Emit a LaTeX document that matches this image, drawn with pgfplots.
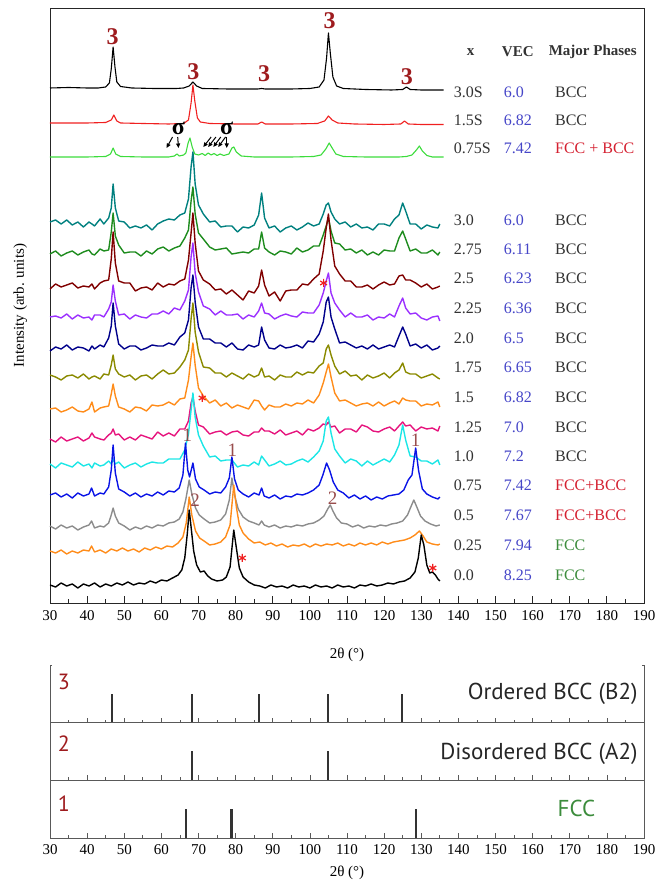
\documentclass[border=0pt]{standalone}
\usepackage{pgfplots}
\pgfplotsset{compat=1.18}
\usepackage{pgfplotstable}
\usepackage{fontspec}
\setmainfont{Liberation Serif}
\newfontfamily\labelsans{PT Sans}
\usetikzlibrary{arrows.meta}

\definecolor{cTeal}{HTML}{00807F}
\definecolor{cGreen}{HTML}{1E8C1E}
\definecolor{cDRed}{HTML}{800000}
\definecolor{cPurple}{HTML}{9B30FF}
\definecolor{cNavy}{HTML}{00008B}
\definecolor{cOlive}{HTML}{8A8A00}
\definecolor{cOrange}{HTML}{FF8C1A}
\definecolor{cPink}{HTML}{E6147D}
\definecolor{cCyan}{HTML}{1CE6E6}
\definecolor{cBlue}{HTML}{0A14E6}
\definecolor{cGray}{HTML}{8C8C8C}
\definecolor{cRed}{HTML}{F02020}
\definecolor{cLime}{HTML}{3CDC3C}
\definecolor{cLabel}{HTML}{9E1B1E}
\definecolor{cPeak}{HTML}{8E3A3A}
\definecolor{cVEC}{HTML}{4646C8}
\definecolor{cPhRed}{HTML}{D42030}
\definecolor{cPhGreen}{HTML}{3C8C3C}
\definecolor{cText}{HTML}{333333}

% BCC-type scans (x = 1.0 ... 3.0), stacked intensities on a shared 2theta grid
\pgfplotstableread{
x     s30 s275 s25 s225 s20 s175 s15 s125 s10
30    381 349 314 286 252 228 194 164 139
31.5  383 352 319 287 256 226 195 161 135
33    379 347 316 285 254 223 191 166 140
34.5  383 350 318 289 258 227 193 162 138
36    378 352 320 284 253 228 196 164 136
37.5  381 348 315 288 256 225 192 166 141
39    376 351 317 285 255 229 191 162 137
40.5  381 353 316 286 252 224 194 165 139
41.3  379 349 319 283 257 226 201 170 135
42    377 348 314 288 254 227 191 166 140
43.5  384 354 320 288 258 224 195 164 137
44.5  379 352 322 286 256 229 196 163 138
45.8  385 353 323 294 265 228 197 168 142
46.5  395 371 344 301 277 238 209 170 139
47    419 390 371 318 300 248 219 174 144
47.6  395 367 340 302 277 234 207 168 139
48.5  382 358 322 288 259 229 196 169 141
50    381 350 320 289 254 226 194 163 135
51.5  375 351 320 284 257 228 191 166 138
53    377 351 312 288 257 223 196 163 140
54.5  375 347 315 286 253 227 195 168 136
56    378 352 316 285 255 228 192 166 139
57.5  373 349 313 289 258 224 198 164 141
59    379 354 320 289 257 229 197 171 140
60.5  382 356 316 292 257 233 198 167 140
62    384 352 319 289 260 229 201 170 144
63.5  383 355 318 295 258 230 198 167 144
65    388 357 322 293 266 236 204 174 144
66.3  390 365 324 302 270 243 205 174 153
67.3  404 373 343 313 283 253 223 182 169
68    436 402 370 346 315 284 246 200 193
68.5  451 416 390 360 328 300 260 206 210
69.1  419 389 360 330 301 271 238 192 186
70    398 370 332 311 276 251 215 178 168
71.3  389 364 323 297 264 236 207 176 157
73    381 356 319 294 264 235 200 169 146
74.5  382 353 313 288 260 230 203 171 147
76    376 354 314 292 260 230 197 172 142
77.5  377 355 309 288 256 226 200 168 143
79    377 349 313 288 260 230 195 171 143
80.5  371 350 308 289 254 227 198 172 136
82    376 351 303 284 253 224 196 168 138
83.5  375 350 312 288 258 229 194 167 137
85    378 354 310 286 256 226 203 171 141
86.2  388 354 317 292 258 228 202 171 138
87    410 371 333 300 276 235 197 175 147
87.8  385 355 318 290 263 226 193 172 143
89    375 351 307 289 255 227 198 172 137
90.5  377 348 311 284 254 223 196 169 139
92    371 352 302 287 258 228 196 173 142
93.5  375 351 312 289 255 226 199 168 138
95    377 349 313 287 256 226 197 170 139
96.5  373 355 313 286 258 231 200 172 142
98    376 351 319 291 255 228 199 168 144
99.5  380 353 318 290 262 231 203 174 141
101   377 357 324 290 261 230 200 172 146
102.5 379 357 329 298 269 237 208 175 152
103.6 389 368 352 310 281 240 220 179 162
104.4 398 377 375 322 301 254 231 178 182
105   400 385 389 330 306 258 239 181 186
105.7 391 372 363 310 286 248 226 176 170
106.7 384 360 337 300 274 237 210 177 154
108   379 359 329 293 260 229 202 170 147
109.5 381 353 322 286 261 232 203 174 140
111   376 354 322 290 258 227 200 174 144
112.5 379 350 316 286 255 228 197 171 142
114   375 353 316 286 257 223 199 178 137
115.5 376 348 318 288 254 228 200 176 142
117   373 351 314 283 258 225 197 172 138
118.5 379 348 318 286 254 227 201 171 141
120   379 353 321 285 256 230 197 174 144
121.5 377 352 318 289 258 225 200 176 141
122.8 384 352 319 286 256 230 202 172 148
124   388 365 327 297 267 233 199 177 158
125   400 372 328 305 276 240 205 181 178
125.8 392 364 323 295 269 231 203 177 163
127   379 352 323 289 257 229 202 178 147
128.5 379 354 320 290 259 229 202 172 146
130   374 350 316 285 255 225 197 176 142
131.5 378 350 319 283 258 227 199 174 142
133   376 353 314 286 253 229 198 175 139
134.5 375 348 316 287 255 225 201 172 143
135   379 351 317 282 257 224 196 177 138
}\bccscans

\pgfplotsset{
  xrd/.style={mark=none, line width=1.1pt, line join=round},
  noisy/.style={mark=none, line width=1.4pt, line join=round},
  lowpanel/.style={
    width=594pt, height=57.67pt, scale only axis,
    xmin=30, xmax=190, ymin=0, ymax=1,
    axis line style={black!65, line width=0.8pt},
    ytick=\empty, xtick pos=bottom,
    xtick={30,40,...,190}, minor x tick num=1,
    tick align=inside, major tick length=5pt, minor tick length=3pt,
    every tick/.style={black!65, line width=0.7pt},
    xticklabels={}, clip=false,
  },
  stick/.style={ycomb, mark=none, line width=2.1pt, black!80},
}
\tikzset{
  refname/.style={font=\labelsans\fontsize{23}{23}\selectfont},
  refnum/.style={anchor=west, font=\labelsans\fontsize{22}{22}\selectfont, text=cLabel},
}

\begin{document}
\begin{tikzpicture}
\useasboundingbox (0pt,0pt) rectangle (666pt,883pt);

% ---------- measured patterns ----------
\begin{axis}[
  name=main,
  at={(50pt,280pt)}, anchor=south west,
  width=594pt, height=595pt, scale only axis,
  xmin=30, xmax=190, ymin=0, ymax=595,
  xtick={30,40,...,190}, minor x tick num=1,
  ytick=\empty, xtick pos=bottom,
  tick align=inside, major tick length=7pt, minor tick length=4pt,
  axis line style={black!85, line width=0.9pt},
  every tick/.style={black!85, line width=0.8pt},
  tick label style={font=\fontsize{15}{15}\selectfont},
  xticklabel style={yshift=-4pt},
  /pgf/number format/assume math mode=true,
  xlabel={2θ (°)},
  xlabel style={font=\fontsize{15}{15}\selectfont, at={(axis description cs:0.5,-0.087)}, anchor=center},
  ylabel={Intensity (arb. units)},
  ylabel style={font=\fontsize{15}{15}\selectfont, at={(axis description cs:-0.05,0.5)}, anchor=center},
  clip=false,
]
% annealed samples
\addplot[xrd, black] coordinates {(30,515) (35,515.5) (40,515) (43,515) (45,516) (46,520) (46.5,534) (47,556) (47.5,536) (48,521) (49,516.5) (52,515) (58,514.5) (64,514.5) (66,515) (67.5,517) (68.5,521) (69.5,517) (71,514.5) (78,514) (86,514) (87,514.5) (88,514) (95,514) (100,514.5) (102.5,516) (103.8,523) (104.5,545) (105,570) (105.5,550) (106.2,526) (107.2,517) (109,514.5) (115,513.5) (122,513) (125,513.5) (126,516) (127,513.5) (130,513) (136,513)};
\addplot[xrd, cRed] coordinates {(30,480) (40,480) (45,480.5) (46.5,483) (47.2,488) (48,482) (49,480) (55,479.5) (62,479) (66,479.5) (67.3,483) (68,500) (68.5,518) (69,502) (69.7,485) (70.5,481) (73,479.5) (80,479) (86,479) (87,481) (88,479) (95,479) (102,479.5) (104,482) (105,487) (106,483) (107.5,480) (112,479) (120,478.5) (124.5,479) (125.5,482) (126.5,479) (130,478.5) (136,478.5)};
\addplot[xrd, cLime] coordinates {(30,446) (40,446) (45,446.5) (46.3,449) (47,455) (47.7,449) (49,446.5) (55,446) (62,446) (63.5,447) (64.2,449) (64.8,447) (66,448) (66.6,450) (67.2,460) (67.7,465) (68.3,456) (69,449) (70,448) (71,449.5) (71.8,447.5) (72.6,450) (73.4,448) (74.2,449.5) (75,447.5) (75.8,449) (76.8,447.5) (78.2,449) (79,455) (79.5,456) (80.2,451) (81.5,447) (85,446) (95,446) (101,446.5) (103,448) (104.3,454) (105.2,460) (106,455) (107,449) (109,446.5) (115,446) (124,446) (126,446.5) (127.5,448) (128.7,453) (129.5,457) (130.3,452) (131.5,447.5) (133,446) (136,446)};

% as-milled / BCC series
\addplot[noisy, cTeal]   table[x=x, y=s30]  {\bccscans};
\addplot[noisy, cGreen]  table[x=x, y=s275] {\bccscans};
\addplot[noisy, cDRed]   table[x=x, y=s25]  {\bccscans};
\addplot[noisy, cPurple] table[x=x, y=s225] {\bccscans};
\addplot[noisy, cNavy]   table[x=x, y=s20]  {\bccscans};
\addplot[noisy, cOlive]  table[x=x, y=s175] {\bccscans};
\addplot[noisy, cOrange] table[x=x, y=s15]  {\bccscans};
\addplot[noisy, cPink]   table[x=x, y=s125] {\bccscans};
\addplot[noisy, cCyan]   table[x=x, y=s10]  {\bccscans};

% FCC-containing series
\addplot[noisy, cBlue] coordinates {(30,108) (31.5,110) (33,106) (34.5,109) (36,105) (37.5,110) (39,107) (40.5,109) (41.2,115) (42,107) (43.5,110) (44.5,109) (45.8,116) (46.5,133) (47,158) (47.6,130) (48.5,114) (50,111) (51.5,107) (53,110) (54.5,106) (56,109) (57.5,107) (59,111) (60.5,108) (62,112) (63.5,111) (64.8,115) (65.8,128) (66.5,160) (67.1,133) (67.6,126) (68.5,140) (69.2,124) (70.2,116) (71.5,113) (73,109) (74.5,111) (76,110) (77.3,116) (78.3,125) (79,146) (79.7,124) (80.7,113) (82,109) (83.5,106) (85,110) (86.3,108) (87,115) (87.7,107) (89,105) (90.5,108) (92,104) (93.5,107) (95,106) (96.5,109) (98,108) (99.5,110) (101,113) (102.5,118) (103.5,128) (104.5,140) (105.3,133) (106.3,121) (107.5,113) (109,110) (110.5,105) (112,108) (113.5,104) (115,107) (116.5,103) (118,106) (119.5,104) (121,107) (122.5,108) (124,109) (125.3,113) (126.5,123) (127.5,128) (128.5,155) (129.3,132) (130.3,114) (131.5,109) (133,106) (134.5,104) (135,106)};
\addplot[noisy, cGray] coordinates {(30,77) (31.5,74) (33,78) (34.5,75) (36,77) (37.5,73) (39,76) (40.5,78) (41.2,82) (42,75) (43.5,77) (44.5,76) (45.8,80) (46.5,88) (47,95) (47.6,87) (48.5,80) (50,77) (51.5,73) (53,76) (54.5,74) (56,77) (57.5,75) (59,78) (60.5,77) (62,80) (63.5,81) (64.8,84) (65.8,91) (66.6,104) (67.5,123) (68.2,109) (69.2,95) (70.2,88) (71.5,84) (73,80) (74.5,81) (76,83) (77.3,89) (78.3,103) (79,125) (79.7,108) (80.7,94) (82,86) (83.5,82) (85,80) (86.3,78) (87,82) (87.7,78) (89,76) (90.5,78) (92,75) (93.5,77) (95,76) (96.5,78) (98,77) (99.5,79) (101,80) (102.5,83) (103.8,87) (104.8,94) (105.5,98) (106.2,92) (107.2,85) (108.5,80) (110,79) (111.5,76) (113,78) (114.5,75) (116,77) (117.5,76) (119,78) (120.5,77) (122,79) (123.5,80) (125,82) (126.3,88) (127.3,97) (128,103) (128.8,96) (129.8,87) (131,82) (132.5,79) (134,77) (135,78)};
\addplot[noisy, cOrange] coordinates {(30,52) (31.5,50) (33,53) (34.5,49) (36,52) (37.5,50) (39,53) (40.5,52) (41.2,57) (42,51) (43.5,53) (45,50) (46.5,54) (48,52) (49.5,55) (51,52) (52.5,54) (54,51) (55.5,55) (57,53) (58.5,56) (60,54) (61.5,57) (63,56) (64.5,60) (65.8,66) (66.7,80) (67.5,106) (68.2,88) (69.2,72) (70.3,65) (71.5,62) (73,58) (74.5,59) (76,61) (77.3,66) (78.5,78) (79.5,118) (80.2,96) (81,78) (82,70) (83.5,64) (85,60) (86.5,61) (88,58) (89.5,60) (91,57) (92.5,59) (94,56) (95.5,58) (97,57) (98.5,59) (100,56) (101.5,59) (103,57) (104.5,59) (106,58) (107.5,60) (109,57) (110.5,59) (112,57) (113.5,60) (115,58) (116.5,60) (118,58) (119.5,61) (121,59) (122.5,61) (124,62) (125.5,63) (127,65) (128.3,68) (129.5,72) (130.5,67) (131.5,61) (133,59) (134.5,58) (135,59)};
\addplot[noisy, black] coordinates {(30,18) (31.5,16) (33,20) (34.5,17) (36,19) (37.5,15) (39,19) (40.5,17) (42,20) (43.5,16) (45,19) (46.5,17) (48,20) (49.5,18) (51,21) (52.5,18) (54,20) (55.5,19) (57,22) (58.5,20) (60,23) (61.5,22) (63,25) (64.5,28) (65.5,33) (66.3,45) (67,70) (67.5,93) (68,76) (68.7,52) (69.5,38) (70.5,31) (71.5,32) (72.5,27) (73.5,24) (75,22) (76.5,23) (77.5,26) (78.5,36) (79.5,73) (80.2,55) (81,35) (82,26) (83.5,21) (85,18) (86.5,17) (88,15) (89.5,18) (91,16) (92.5,17) (94,15) (95.5,18) (97,16) (98.5,17) (100,15) (101.5,18) (103,16) (104.5,17) (106,15) (107.5,18) (109,16) (110.5,17) (112,15) (113.5,18) (115,17) (116.5,19) (118,17) (119.5,18) (121,20) (122.5,19) (124,21) (125.5,22) (127,25) (128.3,31) (129.2,45) (130,68) (130.7,58) (131.5,38) (132.3,30) (133,31) (133.8,28) (134.5,24) (135,22)};

% impurity markers
\addplot[only marks, mark=asterisk, mark size=4pt, cRed, line width=1.2pt] coordinates {(71.0,205) (103.7,320) (81.8,45) (133.1,35)};

% phase labels on peaks
\begin{scope}[every node/.style={font=\fontsize{24}{24}\selectfont\bfseries, text=cLabel}]
\node at (axis cs:46.9,566) {3};
\node at (axis cs:68.6,531) {3};
\node at (axis cs:87.7,529) {3};
\node at (axis cs:105.3,582) {3};
\node at (axis cs:126.1,526) {3};
\end{scope}
\begin{scope}[every node/.style={font=\fontsize{19}{19}\selectfont, text=cPeak, opacity=0.9}]
\node at (axis cs:67.0,168) {1};
\node at (axis cs:79.1,153) {1};
\node at (axis cs:128.5,163) {1};
\node at (axis cs:69.1,103) {2};
\node at (axis cs:106.1,105) {2};
\end{scope}

% sigma phase arrows
\node[font=\fontsize{24}{24}\selectfont\bfseries] at (axis cs:64.6,475) {σ};
\node[font=\fontsize{24}{24}\selectfont\bfseries] at (axis cs:77.6,475) {σ};
\begin{scope}[-{Triangle[length=4.5pt,width=4pt]}, line width=1pt]
\draw (axis cs:63.0,466) -- (axis cs:61.4,455);
\draw (axis cs:64.4,466) -- (axis cs:64.6,455);
\draw (axis cs:73.4,466) -- (axis cs:71.3,456);
\draw (axis cs:74.7,466) -- (axis cs:72.6,456);
\draw (axis cs:76.0,466) -- (axis cs:74.0,456);
\draw (axis cs:77.3,466) -- (axis cs:75.3,456);
\draw (axis cs:77.6,466) -- (axis cs:77.6,455);
\end{scope}

% composition table
\begin{scope}[every node/.style={font=\fontsize{15}{15}\selectfont\bfseries, text=cText}]
\node at (axis cs:143.3,551) {x};
\node at (axis cs:156.0,551) {VEC};
\node at (axis cs:176.2,551) {Major Phases};
\end{scope}
\begin{scope}[every node/.style={font=\fontsize{16}{16}\selectfont, anchor=west, inner sep=0pt}]
\node[text=cText] at (axis cs:138.7,511) {3.0S};
\node[text=cVEC]  at (axis cs:152.2,511) {6.0};
\node[text=cText] at (axis cs:166.0,511) {BCC};
\node[text=cText] at (axis cs:138.7,483) {1.5S};
\node[text=cVEC]  at (axis cs:152.2,483) {6.82};
\node[text=cText] at (axis cs:166.0,483) {BCC};
\node[text=cText] at (axis cs:138.7,455) {0.75S};
\node[text=cVEC]  at (axis cs:152.2,455) {7.42};
\node[text=cPhRed] at (axis cs:166.0,455) {FCC + BCC};
\node[text=cText] at (axis cs:138.7,383) {3.0};
\node[text=cVEC]  at (axis cs:152.2,383) {6.0};
\node[text=cText] at (axis cs:166.0,383) {BCC};
\node[text=cText] at (axis cs:138.7,354) {2.75};
\node[text=cVEC]  at (axis cs:152.2,354) {6.11};
\node[text=cText] at (axis cs:166.0,354) {BCC};
\node[text=cText] at (axis cs:138.7,325) {2.5};
\node[text=cVEC]  at (axis cs:152.2,325) {6.23};
\node[text=cText] at (axis cs:166.0,325) {BCC};
\node[text=cText] at (axis cs:138.7,295) {2.25};
\node[text=cVEC]  at (axis cs:152.2,295) {6.36};
\node[text=cText] at (axis cs:166.0,295) {BCC};
\node[text=cText] at (axis cs:138.7,265) {2.0};
\node[text=cVEC]  at (axis cs:152.2,265) {6.5};
\node[text=cText] at (axis cs:166.0,265) {BCC};
\node[text=cText] at (axis cs:138.7,236) {1.75};
\node[text=cVEC]  at (axis cs:152.2,236) {6.65};
\node[text=cText] at (axis cs:166.0,236) {BCC};
\node[text=cText] at (axis cs:138.7,206) {1.5};
\node[text=cVEC]  at (axis cs:152.2,206) {6.82};
\node[text=cText] at (axis cs:166.0,206) {BCC};
\node[text=cText] at (axis cs:138.7,176) {1.25};
\node[text=cVEC]  at (axis cs:152.2,176) {7.0};
\node[text=cText] at (axis cs:166.0,176) {BCC};
\node[text=cText] at (axis cs:138.7,147) {1.0};
\node[text=cVEC]  at (axis cs:152.2,147) {7.2};
\node[text=cText] at (axis cs:166.0,147) {BCC};
\node[text=cText] at (axis cs:138.7,118) {0.75};
\node[text=cVEC]  at (axis cs:152.2,118) {7.42};
\node[text=cPhRed] at (axis cs:166.0,118) {FCC+BCC};
\node[text=cText] at (axis cs:138.7,88) {0.5};
\node[text=cVEC]  at (axis cs:152.2,88) {7.67};
\node[text=cPhRed] at (axis cs:166.0,88) {FCC+BCC};
\node[text=cText] at (axis cs:138.7,58) {0.25};
\node[text=cVEC]  at (axis cs:152.2,58) {7.94};
\node[text=cPhGreen] at (axis cs:166.0,58) {FCC};
\node[text=cText] at (axis cs:138.7,28) {0.0};
\node[text=cVEC]  at (axis cs:152.2,28) {8.25};
\node[text=cPhGreen] at (axis cs:166.0,28) {FCC};
\end{scope}
\end{axis}

% ---------- reference patterns ----------
\begin{axis}[lowpanel, at={(50pt,160.33pt)}, anchor=south west]
\addplot[stick] coordinates {(46.8,0.5) (68.3,0.5) (86.4,0.5) (104.9,0.5) (124.7,0.5)};
% open top edge of the stack
\draw[white, line width=2pt] (rel axis cs:0.003,1) -- (rel axis cs:0.997,1);
\node[refnum] at (axis cs:31.2,0.7) {3};
\node[refname, anchor=east, text=black!85] at (axis cs:189.2,0.5) {Ordered BCC (B2)};
\end{axis}

\begin{axis}[lowpanel, at={(50pt,102.67pt)}, anchor=south west]
\addplot[stick] coordinates {(68.3,0.5) (104.9,0.5)};
\node[refnum] at (axis cs:31.2,0.64) {2};
\node[refname, anchor=east, text=black!85] at (axis cs:189.2,0.46) {Disordered BCC (A2)};
\end{axis}

\begin{axis}[lowpanel, at={(50pt,45pt)}, anchor=south west,
  xticklabels={30,40,50,60,70,80,90,100,110,120,130,140,150,160,170,180,190},
  tick label style={font=\fontsize{15}{15}\selectfont},
  xticklabel style={yshift=-3pt},
  xlabel={2θ (°)},
  xlabel style={font=\fontsize{15}{15}\selectfont, at={(axis description cs:0.5,-0.6)}, anchor=center},
]
\addplot[stick] coordinates {(66.6,0.5) (78.9,0.5) (128.5,0.5)};
\node[refnum] at (axis cs:31.2,0.6) {1};
\node[refname, text=cPhGreen] at (axis cs:171.8,0.52) {FCC};
\end{axis}
\end{tikzpicture}
\end{document}
